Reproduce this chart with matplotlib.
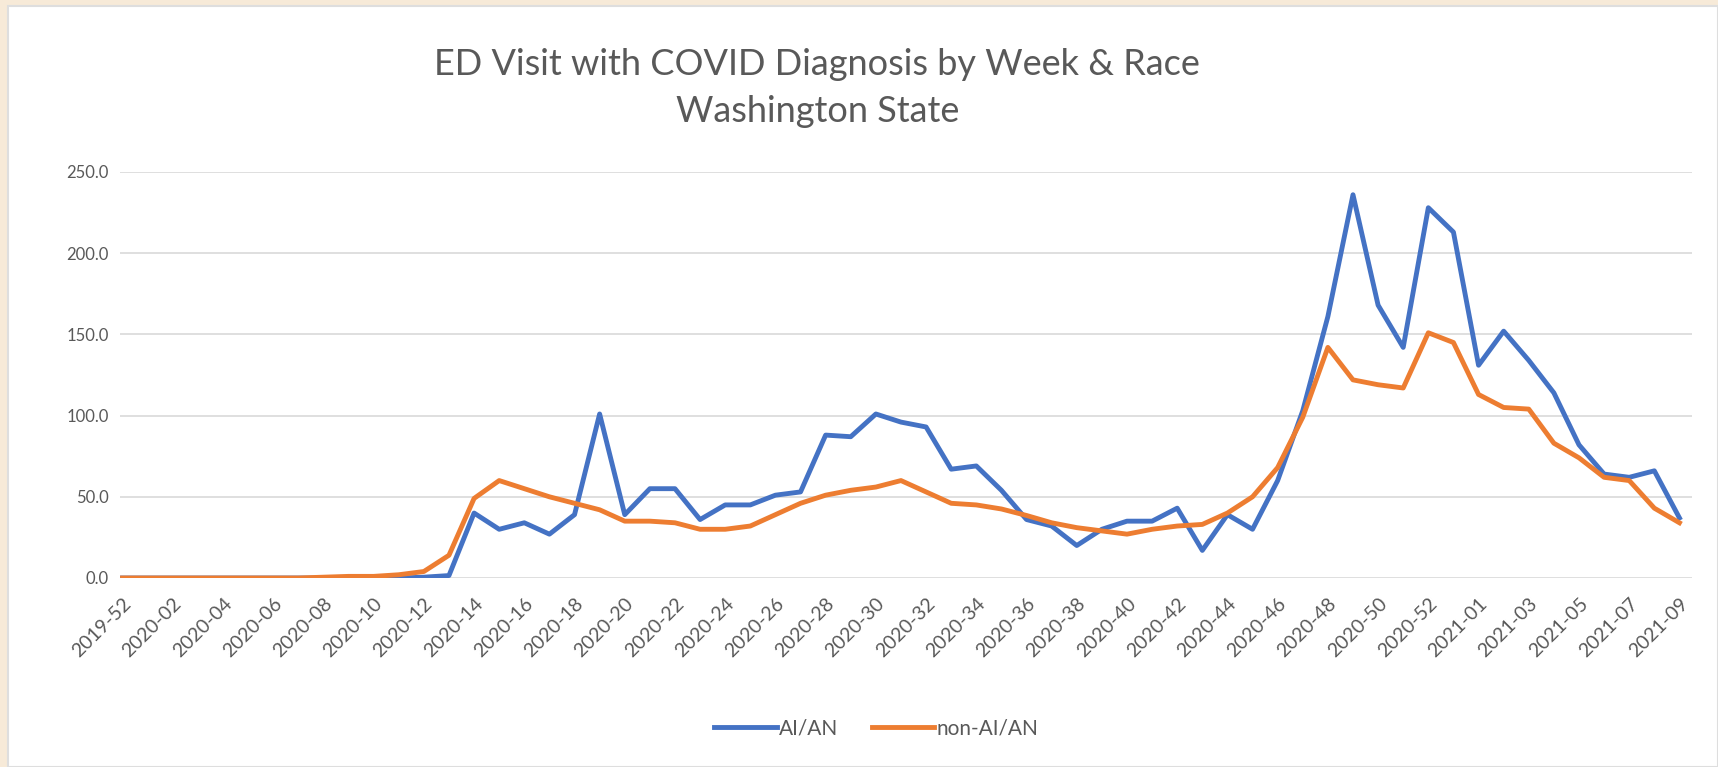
import matplotlib
matplotlib.use("Agg")
import matplotlib.pyplot as plt
from matplotlib.patches import Rectangle

weeks = (["2019-52"]
         + [f"2020-{w:02d}" for w in range(1, 54)]
         + [f"2021-{w:02d}" for w in range(1, 10)])

aian = [0, 0, 0, 0, 0, 0, 0, 0, 0, 0, 0, 0, 0.5, 1.5, 40,
        30, 34, 27, 39, 101, 39, 55, 55, 36, 45,
        45, 51, 53, 88, 87, 101, 96, 93, 67, 69,
        54, 36, 32, 20, 30, 35, 35, 43, 17, 39,
        30, 60, 103, 161, 236, 168, 142, 228, 213, 131,
        152, 134, 114, 82, 64, 62, 66, 37]

non_aian = [0, 0, 0, 0, 0, 0, 0, 0, 0.5, 1, 1, 2, 4, 14, 49,
            60, 55, 50, 46, 42, 35, 35, 34, 30, 30,
            32, 39, 46, 51, 54, 56, 60, 53, 46, 45,
            42.5, 38.5, 34, 31, 29, 27, 30, 32, 33, 40,
            50, 68, 99, 142, 122, 119, 117, 151, 145, 113,
            105, 104, 83, 74, 62, 60, 43, 34]

title = "ED Visit with COVID Diagnosis by Week & Race\nWashington State"
series_names = ["AI/AN", "non-AI/AN"]

BLUE = "#4472C4"
ORANGE = "#ED7D31"
TEXT = "#595959"

plt.rcParams["font.family"] = ["Lato", "DejaVu Sans"]

fig = plt.figure(figsize=(17.18, 7.67), dpi=100)
fig.patch.set_facecolor("#f7ead8")
# white chart panel with soft border, kept under the axes
panel = Rectangle((8 / 1718, 0), 1 - 8 / 1718, 1 - 6 / 767,
                  transform=fig.transFigure, facecolor="white",
                  edgecolor="#dedede", linewidth=1.5, zorder=-10)
fig.patches.append(panel)

ax = fig.add_axes([120 / 1718, 1 - 578 / 767, (1692 - 120) / 1718, (578 - 172) / 767])
ax.set_facecolor("none")
ax.set_zorder(2)

x = list(range(len(weeks)))
ax.plot(x, aian, color=BLUE, lw=3.5, label=series_names[0], solid_joinstyle="round", zorder=3)
ax.plot(x, non_aian, color=ORANGE, lw=3.5, label=series_names[1], solid_joinstyle="round", zorder=3)

ax.set_ylim(0, 250)
ax.set_xlim(-0.1, 62.5)
ax.set_yticks([0, 50, 100, 150, 200, 250])
ax.set_yticklabels([f"{v:.1f}" for v in [0, 50, 100, 150, 200, 250]])
ax.yaxis.grid(True, color="#d9d9d9", lw=1.2)
ax.set_axisbelow(True)

ax.set_xticks(x[::2])
ax.set_xticklabels(weeks[::2], rotation=45, ha="right", va="top", rotation_mode="anchor")

ax.tick_params(axis="x", length=0, colors=TEXT, labelsize=14, pad=12)
ax.tick_params(axis="y", length=0, colors=TEXT, labelsize=12, pad=8)
for s in ax.spines.values():
    s.set_visible(False)

fig.text(0.4757, 0.885, title, ha="center", va="center", fontsize=26,
         color=TEXT, linespacing=1.5)

fig.legend(loc="center", bbox_to_anchor=(0.51, 0.05), ncol=2, frameon=False,
           fontsize=15, labelcolor=TEXT, handlelength=3.0, handletextpad=0.1,
           columnspacing=1.6)

fig.savefig("out.png", dpi=100, facecolor=fig.get_facecolor())
